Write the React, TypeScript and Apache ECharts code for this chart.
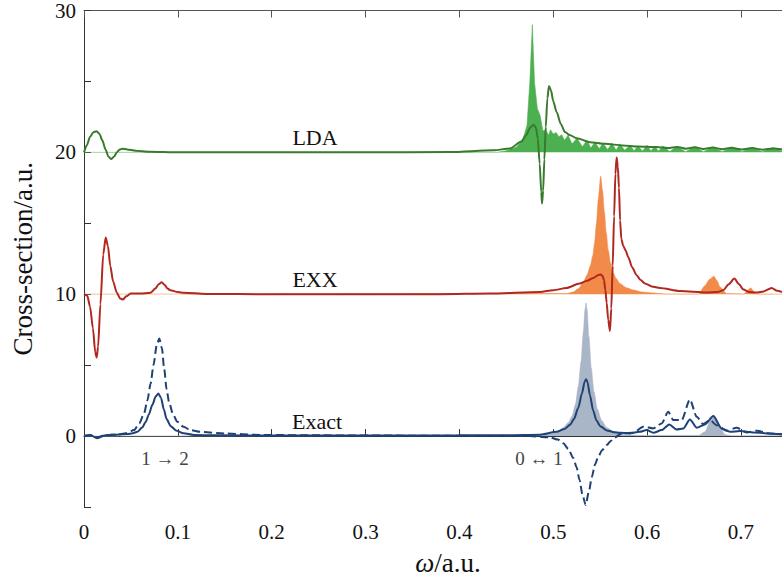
import React, { useEffect, useRef } from "react";
import * as echarts from "echarts";

const FONT = "'Liberation Serif', 'DejaVu Serif', serif";

// x range and axis ticks
const X_MIN = 0;
const X_MAX = 0.7437;
const X_STEP = 0.1;
const Y_MIN = -5;
const Y_MAX = 30;
const Y_STEP = 5;
const Y_LABELS = [0, 10, 20, 30];

// Baselines of the three stacked spectra
const BASE_EXACT = 0;
const BASE_EXX = 10;
const BASE_LDA = 20;

// ---- Exact ----
const exactSolid: number[][] = [
  [0, 0], [0.007, 0.07], [0.014, -0.16], [0.02, 0.02], [0.0245, 0.07], [0.035, 0.1],
  [0.046, 0.14], [0.052, 0.2], [0.057, 0.3], [0.062, 0.6], [0.0657, 1.0], [0.069, 1.5],
  [0.0728, 2.2], [0.0765, 2.8], [0.0792, 3.0], [0.082, 2.7], [0.0852, 1.85], [0.088, 1.2],
  [0.0924, 0.7], [0.098, 0.4], [0.106, 0.2], [0.117, 0.08], [0.14, 0.05], [0.2, 0.04],
  [0.3, 0.04], [0.4, 0.05], [0.45, 0.06], [0.486, 0.1], [0.5036, 0.3], [0.512, 0.5],
  [0.518, 0.8], [0.522, 1.2], [0.5267, 2.0], [0.5305, 3.0], [0.5335, 3.85], [0.5349, 4.01],
  [0.5365, 3.8], [0.539, 2.9], [0.5425, 1.8], [0.546, 1.1], [0.55, 0.7], [0.557, 0.4],
  [0.565, 0.27], [0.571, 0.23], [0.5817, 0.19], [0.592, 0.3], [0.5995, 0.42], [0.6066, 0.23],
  [0.6155, 0.42], [0.6236, 0.82], [0.6314, 0.47], [0.6385, 0.54], [0.6456, 1.17], [0.6528, 0.59],
  [0.6616, 0.82], [0.6705, 1.41], [0.6794, 0.54], [0.6883, 0.3], [0.699, 0.35], [0.7131, 0.26],
  [0.7273, 0.19], [0.7437, 0.12],
];

const exactDashed: number[][] = [
  [0, 0], [0.007, 0.05], [0.014, -0.1], [0.025, 0.07], [0.035, 0.1], [0.045, 0.2],
  [0.0533, 0.42], [0.059, 0.9], [0.064, 1.6], [0.0675, 2.5], [0.071, 3.7], [0.074, 5.0],
  [0.0775, 6.4], [0.0802, 6.88], [0.083, 6.2], [0.0855, 4.7], [0.088, 3.3], [0.0906, 2.4],
  [0.095, 1.5], [0.0994, 1.01], [0.106, 0.65], [0.1137, 0.42], [0.1236, 0.3], [0.15, 0.18],
  [0.1875, 0.08], [0.25, 0.05], [0.35, 0.03], [0.45, 0.0], [0.475, 0.0], [0.4965, -0.09],
  [0.505, -0.25], [0.5107, -0.51], [0.516, -0.9], [0.5213, -1.55], [0.5248, -2.2], [0.528, -3.1],
  [0.531, -4.1], [0.5345, -4.86], [0.538, -3.9], [0.541, -2.9], [0.5445, -2.0], [0.548, -1.45],
  [0.552, -1.0], [0.557, -0.63], [0.5615, -0.33], [0.5657, -0.09], [0.5729, 0.19], [0.5853, 0.23],
  [0.5959, 0.66], [0.6066, 0.54], [0.6155, 0.89], [0.6225, 1.71], [0.6279, 1.13], [0.6368, 1.13],
  [0.6456, 2.58], [0.6528, 1.36], [0.6598, 0.85], [0.667, 1.13], [0.674, 0.77], [0.6847, 0.38],
  [0.6954, 0.59], [0.706, 0.26], [0.7167, 0.38], [0.7309, 0.19], [0.7437, 0.12],
];

const exactFill: number[][] = [
  [0, 0], [0.49, 0.05], [0.4965, 0.12], [0.505, 0.35], [0.5107, 0.6], [0.516, 0.95],
  [0.52, 1.4], [0.5235, 2.2], [0.5267, 3.5], [0.5295, 5.2], [0.532, 7.3], [0.5338, 8.9],
  [0.5349, 9.39], [0.536, 8.9], [0.538, 7.0], [0.5405, 4.8], [0.5435, 3.1], [0.547, 1.9],
  [0.5515, 1.1], [0.557, 0.6], [0.5646, 0.3], [0.5746, 0.12], [0.59, 0.05], [0.655, 0.05],
  [0.6616, 0.3], [0.6677, 1.13], [0.6712, 1.48], [0.6776, 0.66], [0.683, 0.1], [0.69, 0.03],
  [0.7437, 0.03],
];

// ---- EXX ----
const exxLine: number[][] = [
  [0, 10], [0.0035, 9.9], [0.0065, 9.1], [0.0095, 7.6], [0.012, 5.9], [0.0135, 5.54],
  [0.015, 6.3], [0.0175, 9.3], [0.0205, 12.8], [0.0231, 14.0], [0.0255, 13.4], [0.028, 12.0],
  [0.031, 10.9], [0.035, 10.1], [0.0385, 9.7], [0.0416, 9.63], [0.045, 9.85], [0.0497, 10.05],
  [0.06, 10.05], [0.071, 10.1], [0.076, 10.4], [0.0795, 10.7], [0.0828, 10.85], [0.086, 10.65],
  [0.089, 10.4], [0.092, 10.28], [0.1, 10.15], [0.1065, 10.1], [0.13, 10.02], [0.2, 10.0],
  [0.3, 10.0], [0.38, 10.0], [0.4326, 10.05], [0.486, 10.16], [0.5, 10.28], [0.514, 10.44],
  [0.528, 10.75], [0.536, 10.95], [0.5426, 11.15], [0.548, 11.35], [0.5505, 11.39], [0.5525, 11.3],
  [0.554, 11.0], [0.5555, 10.3], [0.5569, 9.4], [0.5585, 8.2], [0.5604, 7.4], [0.5618, 9.0],
  [0.5633, 12.0], [0.5648, 15.5], [0.5662, 18.5], [0.5675, 19.63], [0.5688, 19.0], [0.57, 17.5],
  [0.5712, 15.2], [0.5725, 13.9], [0.5746, 13.4], [0.577, 13.1], [0.58, 12.6], [0.584, 11.9],
  [0.5888, 11.34], [0.593, 11.0], [0.5977, 10.75], [0.605, 10.55], [0.6137, 10.44], [0.635, 10.23],
  [0.6634, 10.12], [0.675, 10.15], [0.681, 10.28], [0.687, 10.7], [0.6929, 11.1], [0.698, 10.7],
  [0.7025, 10.33], [0.709, 10.15], [0.7167, 10.12], [0.724, 10.2], [0.7327, 10.44], [0.7385, 10.25],
  [0.7437, 10.16],
];

const exxFill: number[][] = [
  [0, 10], [0.515, 10.05], [0.521, 10.15], [0.527, 10.4], [0.532, 10.85], [0.536, 11.35],
  [0.5395, 12.0], [0.542, 12.7], [0.544, 13.6], [0.546, 15.0], [0.548, 16.7], [0.5505, 18.31],
  [0.5525, 17.3], [0.5545, 15.8], [0.5565, 14.3], [0.5586, 13.1], [0.561, 12.2], [0.564, 11.5],
  [0.567, 11.1], [0.571, 10.75], [0.578, 10.45], [0.585, 10.3], [0.595, 10.15], [0.6066, 10.08],
  [0.62, 10.02], [0.655, 10.02], [0.6616, 10.6], [0.6665, 11.05], [0.6712, 11.27], [0.6745, 10.95],
  [0.6776, 10.51], [0.6847, 10.05], [0.703, 10.02], [0.7103, 10.44], [0.716, 10.02], [0.7437, 10.0],
];

// ---- LDA ----
const ldaLine: number[][] = [
  [0, 20], [0.003, 20.5], [0.0065, 21.1], [0.01, 21.42], [0.0135, 21.48], [0.0165, 21.3],
  [0.0195, 20.85], [0.023, 20.2], [0.026, 19.7], [0.029, 19.53], [0.032, 19.7], [0.035, 20.0],
  [0.038, 20.2], [0.041, 20.26], [0.046, 20.2], [0.055, 20.12], [0.07, 20.05], [0.1, 20.0],
  [0.2, 20.0], [0.3, 20.0], [0.39, 20.02], [0.436, 20.14], [0.454, 20.28], [0.466, 20.77],
  [0.471, 21.2], [0.4755, 21.75], [0.479, 21.95], [0.4815, 21.75], [0.4835, 21.0], [0.4855, 19.2],
  [0.4872, 17.2], [0.488, 16.39], [0.4892, 17.3], [0.4905, 19.5], [0.492, 21.8], [0.4937, 23.8],
  [0.4954, 24.67], [0.4975, 24.4], [0.5, 23.6], [0.5036, 22.84], [0.508, 22.0], [0.5125, 21.43],
  [0.518, 21.2], [0.525, 21.0], [0.539, 20.72], [0.555, 20.6], [0.574, 20.49], [0.59, 20.42],
  [0.61, 20.37], [0.622, 20.3], [0.632, 20.38], [0.641, 20.26], [0.651, 20.36], [0.66, 20.24],
  [0.67, 20.34], [0.68, 20.22], [0.69, 20.32], [0.701, 20.2], [0.712, 20.3], [0.723, 20.19],
  [0.734, 20.28], [0.7437, 20.22],
];

const ldaFill: number[][] = [
  [0, 20], [0.44, 20.0], [0.449, 20.1], [0.461, 20.37], [0.468, 21.0], [0.472, 21.9],
  [0.475, 24.95], [0.4777, 29.0], [0.48, 24.95], [0.483, 23.1], [0.486, 22.6], [0.489, 21.5],
  [0.492, 21.6], [0.495, 21.2], [0.497, 21.6], [0.5, 21.3], [0.503, 21.4], [0.506, 21.1],
  [0.509, 21.25], [0.512, 20.85], [0.5157, 21.2], [0.52, 20.6], [0.5253, 21.0], [0.531, 20.4],
  [0.536, 20.85], [0.54, 20.3], [0.5444, 20.73], [0.549, 20.25], [0.5529, 20.65], [0.558, 20.2],
  [0.5625, 20.65], [0.567, 20.15], [0.571, 20.6], [0.576, 20.15], [0.5817, 20.5], [0.586, 20.12],
  [0.5903, 20.45], [0.595, 20.1], [0.6, 20.5], [0.604, 20.1], [0.6083, 20.45], [0.612, 20.08],
  [0.6168, 20.45], [0.624, 20.06], [0.6317, 20.42], [0.641, 20.05], [0.6509, 20.4], [0.66, 20.05],
  [0.6701, 20.38], [0.68, 20.05], [0.6904, 20.37], [0.701, 20.05], [0.7117, 20.35], [0.723, 20.05],
  [0.734, 20.35], [0.7437, 20.1],
];

const COLORS = {
  exactLine: "#1f4173",
  exactFill: "#a9b6c8",
  exxLine: "#b0281f",
  exxFill: "#f28a4a",
  ldaLine: "#3b7a2e",
  ldaFill: "#4cb050",
};

function fillSeries(name: string, data: number[][], color: string, base: number, smooth: number | boolean) {
  return {
    name,
    type: "line",
    data,
    symbol: "none",
    smooth,
    smoothMonotone: "x",
    silent: true,
    z: 1,
    lineStyle: { width: 1, color, opacity: 0.55 },
    areaStyle: { color, opacity: 1, origin: base },
  };
}

function lineSeries(name: string, data: number[][], color: string, dashed = false) {
  return {
    name,
    type: "line",
    data,
    symbol: "none",
    smooth: 0.25,
    smoothMonotone: "x",
    silent: true,
    z: 3,
    lineStyle: { width: 2, color, type: dashed ? [8, 4] : "solid" },
  };
}

export default function App() {
  const ref = useRef<HTMLDivElement>(null);
  useEffect(() => {
    if (!ref.current) return;
    const chart = echarts.init(ref.current, undefined, { renderer: "svg" });
    const axisColor = "#333";
    const textLabel = (text: string, x: number, y: number, size: number, color = "#111") => ({
      type: "text",
      x,
      y,
      style: {
        text,
        fill: color,
        font: `${size}px ${FONT}`,
        textAlign: "center",
        textVerticalAlign: "middle",
      },
      z: 10,
    });
    chart.setOption({
      animation: false,
      backgroundColor: "#ffffff",
      grid: { left: 84, right: 0, top: 10, bottom: 75 },
      xAxis: [
        {
          type: "value",
          min: X_MIN,
          max: X_MAX,
          interval: X_STEP,
          position: "bottom",
          name: "{i|ω}/a.u.",
          nameLocation: "middle",
          nameGap: 42,
          nameTextStyle: {
            fontFamily: FONT,
            fontSize: 27,
            color: "#111",
            padding: [0, 0, 0, 30],
            rich: { i: { fontFamily: FONT, fontSize: 27, fontStyle: "italic", color: "#111" } },
          },
          axisLine: { show: true, lineStyle: { color: axisColor, width: 1 } },
          axisTick: { show: true, inside: true, length: 7, lineStyle: { color: axisColor } },
          axisLabel: {
            showMaxLabel: false,
            margin: 14,
            fontFamily: FONT,
            fontSize: 21,
            color: "#111",
            formatter: (v: number) => (Math.abs(v - X_MAX) < 1e-6 ? "" : String(Math.round(v * 10) / 10)),
          },
          splitLine: { show: false },
        },
        {
          type: "value",
          min: X_MIN,
          max: X_MAX,
          interval: X_STEP,
          position: "top",
          axisLine: { show: true, lineStyle: { color: "#555", width: 1 } },
          axisTick: { show: true, inside: true, length: 7, lineStyle: { color: "#555" } },
          axisLabel: { show: false },
          splitLine: { show: false },
        },
      ],
      yAxis: {
        type: "value",
        min: Y_MIN,
        max: Y_MAX,
        interval: Y_STEP,
        name: "Cross-section/a.u.",
        nameLocation: "middle",
        nameGap: 48,
        nameTextStyle: { fontFamily: FONT, fontSize: 27, color: "#111" },
        axisLine: { show: true, lineStyle: { color: axisColor, width: 1 } },
        axisTick: { show: true, inside: true, length: 7, lineStyle: { color: axisColor } },
        axisLabel: {
          margin: 8,
          fontFamily: FONT,
          fontSize: 21,
          color: "#111",
          formatter: (v: number) => (Y_LABELS.includes(v) ? String(v) : ""),
        },
        splitLine: { show: false },
      },
      series: [
        fillSeries("Exact fill", exactFill, COLORS.exactFill, BASE_EXACT, 0.25),
        fillSeries("EXX fill", exxFill, COLORS.exxFill, BASE_EXX, 0.25),
        fillSeries("LDA fill", ldaFill, COLORS.ldaFill, BASE_LDA, false),
        lineSeries("LDA", ldaLine, COLORS.ldaLine),
        lineSeries("EXX", exxLine, COLORS.exxLine),
        lineSeries("Exact dashed", exactDashed, COLORS.exactLine, true),
        lineSeries("Exact", exactSolid, COLORS.exactLine),
      ],
      graphic: [
        textLabel("LDA", 315, 137, 22),
        textLabel("EXX", 315, 279, 22),
        textLabel("Exact", 317, 421, 22),
        textLabel("1 → 2", 165, 458, 19, "#444"),
        textLabel("0 ↔ 1", 539, 458, 19, "#444"),
      ],
    });
    return () => chart.dispose();
  }, []);
  return (
    <div
      ref={ref}
      style={{ position: "fixed", left: 0, top: 0, width: 782, height: 582, background: "#fff" }}
    />
  );
}
